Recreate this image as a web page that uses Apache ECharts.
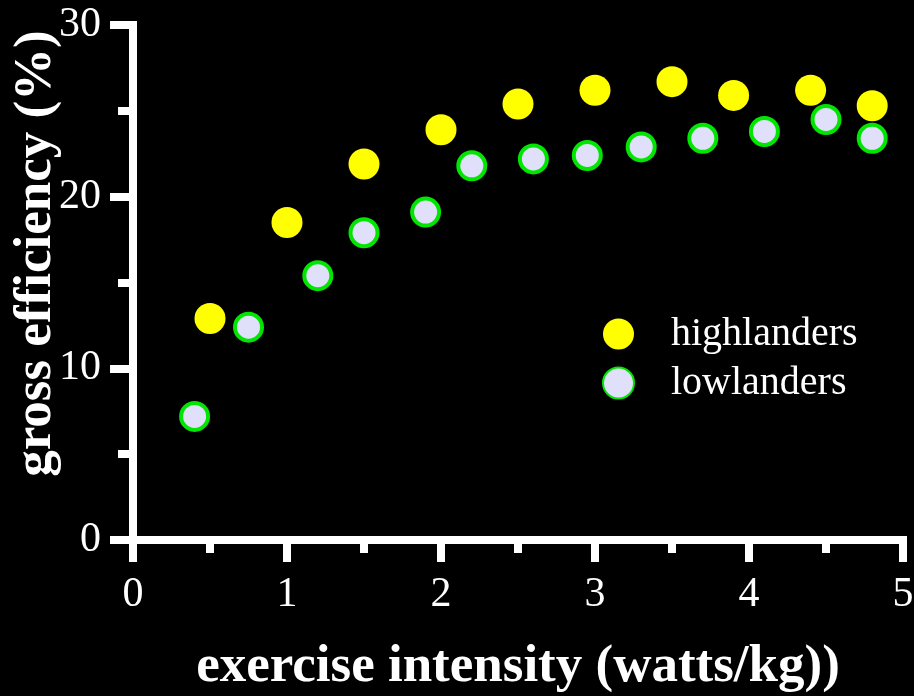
<!DOCTYPE html>
<html>
<head>
<meta charset="utf-8">
<script src="https://cdn.jsdelivr.net/npm/echarts@6/dist/echarts.min.js"></script>
<style>
  html, body { margin: 0; padding: 0; background: #000; }
  #chart { width: 914px; height: 696px; }
</style>
</head>
<body>
<div id="chart"></div>
<script>
// 数据：运动强度 (watts/kg) 与 毛效率 (%)
const highX = [0.5, 1.0, 1.5, 2.0, 2.5, 3.0, 3.5, 3.9, 4.4, 4.8]
const highY = [12.9, 18.5, 21.9, 23.9, 25.4, 26.2, 26.7, 25.9, 26.2, 25.3]
const lowX = [0.4, 0.75, 1.2, 1.5, 1.9, 2.2, 2.6, 2.95, 3.3, 3.7, 4.1, 4.5, 4.8]
const lowY = [7.2, 12.4, 15.4, 17.9, 19.1, 21.8, 22.2, 22.4, 22.9, 23.4, 23.8, 24.5, 23.4]
const seriesNames = ['highlanders', 'lowlanders']

const serif = '"Liberation Serif", "DejaVu Serif", serif'
const white = '#ffffff'

const pairs = (xs, ys) => xs.map((x, i) => [x, ys[i]])

const myCharts = echarts.init(document.getElementById('chart'))

const option = {
  backgroundColor: '#000000',
  animation: false,
  grid: {
    left: 133,
    right: 11,
    top: 25,
    bottom: 156,
    containLabel: false,
    outerBoundsMode: 'none'
  },
  legend: {
    data: seriesNames,
    orient: 'vertical',
    left: 597,
    top: 309,
    itemWidth: 31,
    itemHeight: 31,
    itemGap: 9,
    icon: 'circle',
    textStyle: {
      color: white,
      fontFamily: serif,
      fontSize: 40,
      padding: [0, 0, 0, 32]
    }
  },
  xAxis: {
    type: 'value',
    min: 0,
    max: 5,
    interval: 1,
    name: 'exercise intensity (watts/kg))',
    nameLocation: 'middle',
    nameGap: 101,
    nameMoveOverlap: false,
    nameTextStyle: {
      color: white,
      fontFamily: serif,
      fontWeight: 'bold',
      fontSize: 53
    },
    axisLine: {
      onZero: false,
      lineStyle: { color: white, width: 8, cap: 'square' }
    },
    axisTick: {
      inside: false,
      length: 22,
      lineStyle: { color: white, width: 8 }
    },
    minorTick: {
      show: true,
      splitNumber: 2,
      length: 13,
      lineStyle: { color: white, width: 8 }
    },
    axisLabel: {
      color: white,
      fontFamily: serif,
      fontSize: 42,
      margin: 34
    },
    splitLine: { show: false }
  },
  yAxis: {
    type: 'value',
    min: 0,
    max: 30,
    interval: 10,
    name: 'gross efficiency (%)',
    nameLocation: 'middle',
    nameGap: 70,
    nameMoveOverlap: false,
    nameTextStyle: {
      color: white,
      fontFamily: serif,
      fontWeight: 'bold',
      fontSize: 53,
      padding: [0, 0, 0, 58]
    },
    axisLine: {
      onZero: false,
      lineStyle: { color: white, width: 8, cap: 'square' }
    },
    axisTick: {
      inside: false,
      length: 23,
      lineStyle: { color: white, width: 8 }
    },
    minorTick: {
      show: true,
      splitNumber: 2,
      length: 15,
      lineStyle: { color: white, width: 8 }
    },
    axisLabel: {
      color: white,
      fontFamily: serif,
      fontSize: 42,
      margin: 32
    },
    splitLine: { show: false }
  },
  series: [
    {
      name: seriesNames[0],
      type: 'scatter',
      symbol: 'circle',
      symbolSize: 31,
      data: pairs(highX, highY),
      itemStyle: {
        color: '#ffff00', // 高地人
        opacity: 1
      }
    },
    {
      name: seriesNames[1],
      type: 'scatter',
      symbol: 'circle',
      symbolSize: 27,
      data: pairs(lowX, lowY),
      itemStyle: {
        color: '#e0e0fa', // 低地人
        borderColor: '#00e600',
        borderWidth: 4,
        opacity: 1
      }
    }
  ]
}
myCharts.setOption(option)
</script>
</body>
</html>
